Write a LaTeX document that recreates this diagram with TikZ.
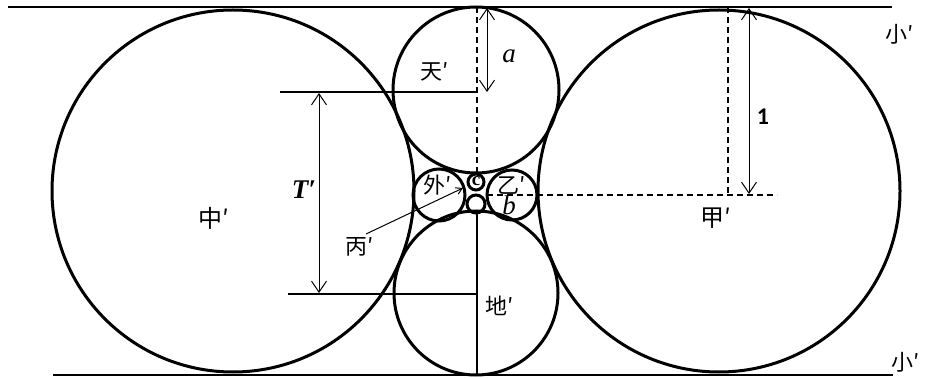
\documentclass[tikz,border=0pt]{standalone}
\usepackage{fontspec}
\newfontfamily\cjk{Noto Sans CJK SC}
\newfontfamily\numfont{Carlito}
\newfontfamily\serifit{Liberation Serif}
\usetikzlibrary{arrows.meta}
\begin{document}
\begin{tikzpicture}[x=1pt,y=-1pt,
  circ/.style={line width=3pt},
  edge/.style={line width=2.6pt},
  dashline/.style={line width=2.4pt,dash pattern=on 6pt off 4pt},
  dim/.style={line width=1pt,{Straight Barb[length=11pt,width=15pt]}-{Straight Barb[length=11pt,width=15pt]}},
  lead/.style={line width=1pt,-{Straight Barb[length=6pt,width=7pt]}},
  lab/.style={font=\cjk\fontsize{22}{22}\selectfont,inner sep=0pt},
  biglab/.style={font=\cjk\fontsize{24}{24}\selectfont,inner sep=0pt},
  mlab/.style={font=\serifit\itshape\fontsize{27}{27}\selectfont,inner sep=0pt}]
\useasboundingbox (0,0) rectangle (952,379);
% lines
\coordinate (tl) at (8,7); \coordinate (tr) at (892,7);
\coordinate (bl) at (53,375); \coordinate (br) at (893,375);
\draw[edge] (tl) -- (tr);
\draw[edge] (bl) -- (br);
% circles
\coordinate (zc) at (233,191);
\coordinate (jc) at (719,191);
\coordinate (tc) at (476,90);
\coordinate (dc) at (476,293);
\coordinate (wc) at (439,195);
\coordinate (yc) at (512,195);
\coordinate (cc) at (476,182);
\coordinate (sc) at (476,204);
\draw[circ] (zc) circle (181);
\draw[circ] (jc) circle (181);
\draw[circ] (tc) circle (83);
\draw[circ] (dc) circle (82);
\draw[circ] (wc) circle (26);
\draw[circ] (yc) circle (25);
\draw[circ] (cc) circle (8);
\draw[circ] (sc) circle (9);
% center lines
\coordinate (vt) at (477,7); \coordinate (vm) at (477,174);
\coordinate (vb1) at (477,213); \coordinate (vb2) at (477,375);
\draw[dashline] (vt) -- (vm);
\draw[edge] (vb1) -- (vb2);
\coordinate (h1) at (487,195); \coordinate (h2) at (777,195);
\draw[dashline] (h1) -- (h2);
\coordinate (j1) at (728,7); \coordinate (j2) at (728,195);
\draw[dashline] (j1) -- (j2);
% horizontal lines for T'
\coordinate (ta) at (280,92); \coordinate (tb) at (477,92);
\coordinate (ba) at (288,294); \coordinate (bb) at (476,294);
\draw[edge] (ta) -- (tb);
\draw[edge] (ba) -- (bb);
% dimension arrows
\coordinate (T1) at (319,93); \coordinate (T2) at (319,293);
\draw[dim] (T1) -- (T2);
\coordinate (a1) at (487,8); \coordinate (a2) at (487,92);
\draw[dim] (a1) -- (a2);
\coordinate (o1) at (749,8); \coordinate (o2) at (749,194);
\draw[dim] (o1) -- (o2);
% labels
\node[lab] (tian) at (435,72) {天′};
\node[lab] (di) at (500,306) {地′};
\node[biglab] (zhong) at (214,218) {中′};
\node[biglab] (jia) at (716,218) {甲′};
\node[lab] (wai) at (438,185) {外′};
\node[lab] (yi) at (512,185) {乙′};
\node[lab] (bing) at (360,247) {丙′};
\node[lab] (xt) at (900,34) {小′};
\node[lab] (xb) at (906,362) {小′};
\node[mlab] (la) at (509,56) {a};
\node[mlab] (lb) at (509,205) {b};
\node[mlab,font=\serifit\itshape\bfseries\fontsize{27}{27}\selectfont] (lT) at (304,190) {T′};
\node[font=\serifit\bfseries\fontsize{19}{19}\selectfont,inner sep=0pt] (lc) at (476,181) {c};
\node[font=\numfont\bfseries\fontsize{24}{24}\selectfont,inner sep=0pt] (l1) at (763,117) {1};
% leader
\coordinate (ls) at (366,234); \coordinate (le) at (463,188);
\draw[lead] (ls) -- (le);
\end{tikzpicture}
\end{document}
